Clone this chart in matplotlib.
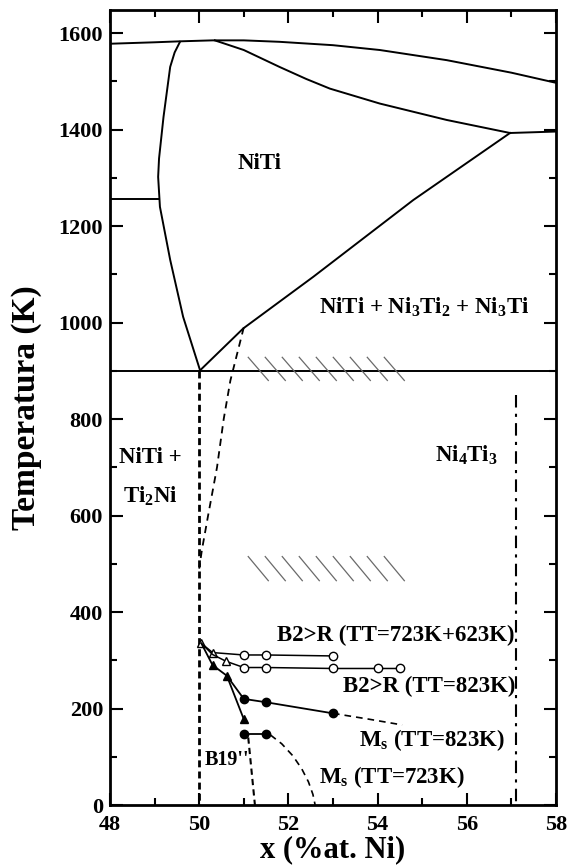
import matplotlib
matplotlib.use("Agg")
import matplotlib.pyplot as plt
import numpy as np
from matplotlib.ticker import MultipleLocator

plt.rcParams['font.family'] = ['Liberation Serif', 'DejaVu Serif']
plt.rcParams['font.weight'] = 'bold'
plt.rcParams['mathtext.fontset'] = 'custom'
plt.rcParams['mathtext.rm'] = 'Liberation Serif:bold'
plt.rcParams['mathtext.it'] = 'Liberation Serif:bold'
plt.rcParams['mathtext.bf'] = 'Liberation Serif:bold'

# ---------------- data ----------------
liquidus_x = [48.0, 49.0, 49.57, 50.3, 51.0, 51.8, 53.0, 54.05, 55.55, 57.0, 58.0]
liquidus_y = [1578, 1581, 1583, 1585, 1585, 1582, 1575, 1565, 1544, 1518, 1497]

solidus_ni_x = [50.35, 51.0, 51.8, 52.4, 52.93, 54.05, 55.55, 56.97]
solidus_ni_y = [1585, 1565, 1530, 1505, 1485, 1454, 1420, 1393]

peritectic_x = [56.97, 58.0]
peritectic_y = [1393, 1396]

solvus_ti_x = [49.57, 49.45, 49.35, 49.2, 49.1, 49.08, 49.12, 49.35, 49.64, 50.02]
solvus_ti_y = [1582, 1560, 1530, 1426, 1340, 1302, 1240, 1130, 1012, 901]

tieline_ti_x = [48.0, 49.1]
tieline_ti_y = [1256, 1256]

solvus_ni_x = [50.02, 50.99, 52.56, 54.8, 56.97]
solvus_ni_y = [901, 988, 1095, 1254, 1393]

eutectoid_x = [48.0, 58.0]
eutectoid_y = [900, 900]

# dashed lines in lower part
vert50_x = [50.0, 50.0]
vert50_y = [900, 0]

precip_x = [51.0, 50.85, 50.7, 50.55, 50.4, 50.2, 50.06, 50.0]
precip_y = [990, 935, 880, 800, 700, 600, 528, 490]

ni4ti3_x = [57.1, 57.1]
ni4ti3_y = [850, 0]

# transformation data
b2r_723_623_x = [50.05, 50.3, 51.0, 51.5, 53.0]
b2r_723_623_y = [335, 316, 311, 311, 309]
b2r_723_623_open_tri_x = [50.05, 50.3]
b2r_723_623_open_tri_y = [335, 316]

b2r_823_x = [50.05, 50.3, 50.6, 51.0, 51.5, 53.0, 54.0, 54.5]
b2r_823_y = [335, 312, 298, 285, 285, 283, 283, 283]
b2r_823_open_tri_x = [50.6]
b2r_823_open_tri_y = [298]

ms823_x = [50.05, 50.3, 50.62, 51.0, 51.5, 53.0]
ms823_y = [335, 290, 268, 220, 213, 190]
ms823_tri_x = [50.3, 50.62]
ms823_tri_y = [290, 268]
ms823_circ_x = [51.0, 51.5, 53.0]
ms823_circ_y = [220, 213, 190]
ms823_ext_x = [53.0, 53.8, 54.55]
ms823_ext_y = [190, 178, 166]

b19_tri_x = [50.62, 51.0]
b19_tri_y = [268, 178]

ms723_x = [51.0, 51.5]
ms723_y = [148, 148]
ms723_ext_x = [51.6, 51.85, 52.1, 52.3, 52.45, 52.55, 52.6]
ms723_ext_y = [145, 127, 102, 75, 48, 22, 0]

b19_bound_x = [51.1, 51.25]
b19_bound_y = [140, 0]

# hatched regions (x-range, y-range)
hatch_x = [51.1, 54.6]
hatch_hi_y = [880, 928]
hatch_lo_y = [465, 515]

# tick labels
xticks = [48, 50, 52, 54, 56, 58]
yticks = [0, 200, 400, 600, 800, 1000, 1200, 1400, 1600]

# ---------------- figure ----------------
fig = plt.figure(figsize=(5.71, 8.67), dpi=100)
ax = fig.add_axes([0.1926, 0.0715, 0.7811, 0.917])

lw = 1.4
k = 'black'
ax.plot(liquidus_x, liquidus_y, color=k, lw=lw)
ax.plot(solidus_ni_x, solidus_ni_y, color=k, lw=lw)
ax.plot(peritectic_x, peritectic_y, color=k, lw=lw)
ax.plot(solvus_ti_x, solvus_ti_y, color=k, lw=lw)
ax.plot(tieline_ti_x, tieline_ti_y, color=k, lw=lw)
ax.plot(solvus_ni_x, solvus_ni_y, color=k, lw=lw)
ax.plot(eutectoid_x, eutectoid_y, color=k, lw=lw)

ax.plot(vert50_x, vert50_y, color=k, lw=2.0, dashes=(2.5, 1.5))
ax.plot(precip_x, precip_y, color=k, lw=1.3, dashes=(4, 3))
ax.plot(ni4ti3_x, ni4ti3_y, color=k, lw=1.5, dashes=(6, 3, 1.5, 3))

# hatch strokes
def hatch(xr, yr, n=9):
    step = (xr[1] - xr[0] - 0.45) / (n - 1)
    for i in range(n):
        x0 = xr[0] + i * step
        ax.plot([x0, x0 + 0.45], [yr[1], yr[0]], color='#6a6a6a', lw=0.9)

hatch(hatch_x, hatch_hi_y)
hatch(hatch_x, hatch_lo_y)

ms = 6
ax.plot(b2r_723_623_x, b2r_723_623_y, color=k, lw=1.1)
ax.plot(b2r_723_623_x[2:], b2r_723_623_y[2:], 'o', mfc='white', mec=k, ms=ms, mew=1.0)
ax.plot(b2r_723_623_open_tri_x, b2r_723_623_open_tri_y, '^', mfc='white', mec=k, ms=ms, mew=1.0)

ax.plot(b2r_823_x, b2r_823_y, color=k, lw=1.1)
ax.plot(b2r_823_x[3:], b2r_823_y[3:], 'o', mfc='white', mec=k, ms=ms, mew=1.0)
ax.plot(b2r_823_open_tri_x, b2r_823_open_tri_y, '^', mfc='white', mec=k, ms=ms, mew=1.0)

ax.plot(ms823_x, ms823_y, color=k, lw=1.3)
ax.plot(ms823_tri_x, ms823_tri_y, '^', color=k, ms=ms)
ax.plot(ms823_circ_x, ms823_circ_y, 'o', color=k, ms=ms)
ax.plot(ms823_ext_x, ms823_ext_y, color=k, lw=1.2, dashes=(4, 3))

ax.plot(b19_tri_x, b19_tri_y, color=k, lw=1.3)
ax.plot(b19_tri_x[-1:], b19_tri_y[-1:], '^', color=k, ms=ms)

ax.plot(ms723_x, ms723_y, 'o-', color=k, lw=1.3, ms=ms)
ax.plot(ms723_ext_x, ms723_ext_y, color=k, lw=1.2, dashes=(4, 3))
ax.plot(b19_bound_x, b19_bound_y, color=k, lw=1.5, dashes=(3, 2))

# ---------------- text ----------------
fs = 16.5
ax.text(51.36, 1330, 'NiTi', fontsize=fs, ha='center', va='center')
ax.text(55.04, 1032, 'NiTi + Ni$_3$Ti$_2$ + Ni$_3$Ti', fontsize=fs, ha='center', va='center')
ax.text(48.9, 721, 'NiTi +', fontsize=fs, ha='center', va='center')
ax.text(48.9, 640, 'Ti$_2$Ni', fontsize=fs, ha='center', va='center')
ax.text(56.0, 725, 'Ni$_4$Ti$_3$', fontsize=fs, ha='center', va='center')
ax.text(57.08, 352, 'B2>R (TT=723K+623K)', fontsize=fs, ha='right', va='center')
ax.text(57.08, 245, 'B2>R (TT=823K)', fontsize=fs, ha='right', va='center')
ax.text(56.86, 135, 'M$_s$ (TT=823K)', fontsize=fs, ha='right', va='center')
ax.text(55.95, 58, 'M$_s$ (TT=723K)', fontsize=fs, ha='right', va='center')
ax.text(50.12, 93, "B19''", fontsize=14.5, ha='left', va='center')

# ---------------- axes ----------------
ax.set_xlim(48, 58)
ax.set_ylim(0, 1648)
ax.set_xticks(xticks)
ax.set_yticks(yticks)
ax.xaxis.set_minor_locator(MultipleLocator(1))
ax.yaxis.set_minor_locator(MultipleLocator(100))
ax.tick_params(which='both', direction='in', top=True, right=True, width=1.5)
ax.tick_params(which='major', length=9, labelsize=16)
ax.tick_params(axis='x', which='major', pad=7)
ax.tick_params(axis='y', which='major', pad=5)
ax.tick_params(which='minor', length=5)
for lab in ax.get_xticklabels() + ax.get_yticklabels():
    lab.set_fontweight('bold')
for s in ax.spines.values():
    s.set_linewidth(2.0)
ax.set_xlabel('x (%at. Ni)', fontsize=22, fontweight='bold', labelpad=0)
ax.set_ylabel('Temperatura (K)', fontsize=24, fontweight='bold', labelpad=12)

fig.savefig('out.png', dpi=100)
